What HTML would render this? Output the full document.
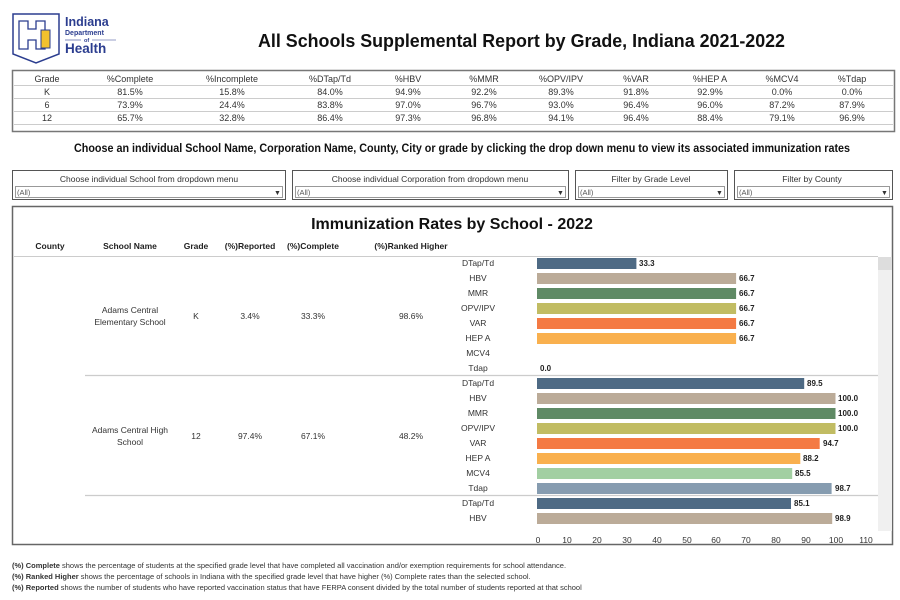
<!DOCTYPE html>
<html><head><meta charset="utf-8"><style>
html,body{margin:0;padding:0;background:#fff;width:900px;height:600px;overflow:hidden}
svg{display:block;font-family:"Liberation Sans",sans-serif}
</style></head><body>
<svg width="900" height="600" viewBox="0 0 900 600" xmlns="http://www.w3.org/2000/svg">
<!-- logo -->
<path d="M13,14 L59,14 L59,54 L36,63 L13,54 Z" fill="#fff" stroke="#2b3d8f" stroke-width="1.5"/>
<path d="M19,21 h9 v8 h8 v-8 h9 v28 h-9 v-9 h-8 v9 h-9 Z" fill="none" stroke="#2b3d8f" stroke-width="1.3"/>
<path d="M41,30 h9 v18 h-9 Z" fill="#f2c12e" stroke="#2b3d8f" stroke-width="1"/>
<text x="65" y="26" font-size="12.5" font-weight="bold" fill="#2b3d8f">Indiana</text>
<text x="65" y="35" font-size="7" font-weight="bold" fill="#2b3d8f">Department</text>
<text x="84" y="42" font-size="5.5" font-weight="bold" fill="#2b3d8f">of</text>
<line x1="65" y1="40" x2="81" y2="40" stroke="#2b3d8f" stroke-width="0.6"/>
<line x1="92" y1="40" x2="116" y2="40" stroke="#2b3d8f" stroke-width="0.6"/>
<text x="65" y="53" font-size="13.5" font-weight="bold" fill="#2b3d8f">Health</text>
<!-- title -->
<text x="258" y="47" font-size="18.5" font-weight="bold" fill="#111" textLength="527" lengthAdjust="spacingAndGlyphs">All Schools Supplemental Report by Grade, Indiana 2021-2022</text>
<!-- summary table -->
<rect x="12.5" y="70.5" width="882" height="61" fill="#fff" stroke="#777" stroke-width="1.5"/>
<g stroke="#ccc" stroke-width="1"><line x1="14" y1="85.5" x2="893" y2="85.5"/><line x1="14" y1="98.5" x2="893" y2="98.5"/><line x1="14" y1="111.5" x2="893" y2="111.5"/><line x1="14" y1="124.5" x2="893" y2="124.5"/></g>
<g font-size="9" fill="#333" text-anchor="middle">
<text x="47" y="82">Grade</text><text x="130" y="82">%Complete</text><text x="232" y="82">%Incomplete</text><text x="330" y="82">%DTap/Td</text><text x="408" y="82">%HBV</text><text x="484" y="82">%MMR</text><text x="561" y="82">%OPV/IPV</text><text x="636" y="82">%VAR</text><text x="710" y="82">%HEP A</text><text x="782" y="82">%MCV4</text><text x="852" y="82">%Tdap</text>
<text x="47" y="95">K</text><text x="130" y="95">81.5%</text><text x="232" y="95">15.8%</text><text x="330" y="95">84.0%</text><text x="408" y="95">94.9%</text><text x="484" y="95">92.2%</text><text x="561" y="95">89.3%</text><text x="636" y="95">91.8%</text><text x="710" y="95">92.9%</text><text x="782" y="95">0.0%</text><text x="852" y="95">0.0%</text>
<text x="47" y="108">6</text><text x="130" y="108">73.9%</text><text x="232" y="108">24.4%</text><text x="330" y="108">83.8%</text><text x="408" y="108">97.0%</text><text x="484" y="108">96.7%</text><text x="561" y="108">93.0%</text><text x="636" y="108">96.4%</text><text x="710" y="108">96.0%</text><text x="782" y="108">87.2%</text><text x="852" y="108">87.9%</text>
<text x="47" y="121">12</text><text x="130" y="121">65.7%</text><text x="232" y="121">32.8%</text><text x="330" y="121">86.4%</text><text x="408" y="121">97.3%</text><text x="484" y="121">96.8%</text><text x="561" y="121">94.1%</text><text x="636" y="121">96.4%</text><text x="710" y="121">88.4%</text><text x="782" y="121">79.1%</text><text x="852" y="121">96.9%</text>
</g>
<text x="74" y="152" font-size="11.5" font-weight="bold" fill="#111" textLength="776" lengthAdjust="spacingAndGlyphs">Choose an individual School Name, Corporation Name, County, City or grade by clicking the drop down menu to view its associated immunization rates</text>
<!-- dropdowns -->
<g font-size="8.5" fill="#333">
<rect x="12.5" y="170.5" width="273" height="29" fill="#fff" stroke="#555"/>
<rect x="15.5" y="186.5" width="267" height="11" fill="#fff" stroke="#999"/>
<text x="149" y="182" text-anchor="middle">Choose individual School from dropdown menu</text>
<text x="17" y="195" font-size="7.5" fill="#555">(All)</text><text x="274" y="195" font-size="7">▼</text>
<rect x="292.5" y="170.5" width="276" height="29" fill="#fff" stroke="#555"/>
<rect x="295.5" y="186.5" width="270" height="11" fill="#fff" stroke="#999"/>
<text x="430" y="182" text-anchor="middle">Choose individual Corporation from dropdown menu</text>
<text x="297" y="195" font-size="7.5" fill="#555">(All)</text><text x="557" y="195" font-size="7">▼</text>
<rect x="575.5" y="170.5" width="152" height="29" fill="#fff" stroke="#555"/>
<rect x="578.5" y="186.5" width="146" height="11" fill="#fff" stroke="#999"/>
<text x="651" y="182" text-anchor="middle">Filter by Grade Level</text>
<text x="580" y="195" font-size="7.5" fill="#555">(All)</text><text x="716" y="195" font-size="7">▼</text>
<rect x="734.5" y="170.5" width="158" height="29" fill="#fff" stroke="#555"/>
<rect x="737.5" y="186.5" width="152" height="11" fill="#fff" stroke="#999"/>
<text x="812" y="182" text-anchor="middle">Filter by County</text>
<text x="739" y="195" font-size="7.5" fill="#555">(All)</text><text x="881" y="195" font-size="7">▼</text>
</g>
<!-- main panel -->
<rect x="12.5" y="206.5" width="880" height="338" fill="#fff" stroke="#666" stroke-width="1.5"/>
<text x="452" y="229" font-size="16" font-weight="bold" fill="#111" text-anchor="middle">Immunization Rates by School - 2022</text>
<g font-size="8.5" font-weight="bold" fill="#222" text-anchor="middle">
<text x="50" y="249">County</text><text x="130" y="249">School Name</text><text x="196" y="249">Grade</text><text x="250" y="249">(%)Reported</text><text x="313" y="249">(%)Complete</text><text x="411" y="249">(%)Ranked Higher</text>
</g>
<line x1="14" y1="256.5" x2="878" y2="256.5" stroke="#ccc"/>
<line x1="85" y1="375.5" x2="878" y2="375.5" stroke="#ccc" stroke-width="1.2"/>
<line x1="85" y1="495.5" x2="878" y2="495.5" stroke="#ccc" stroke-width="1.2"/>
<rect x="878" y="257" width="14" height="274" fill="#f0f0f0"/>
<rect x="878" y="257" width="14" height="13" fill="#ddd"/>
<g font-size="8.5" fill="#333" text-anchor="middle">
<text x="130" y="313">Adams Central</text><text x="130" y="325">Elementary School</text>
<text x="196" y="319">K</text><text x="250" y="319">3.4%</text><text x="313" y="319">33.3%</text><text x="411" y="319">98.6%</text>
<text x="130" y="433">Adams Central High</text><text x="130" y="445">School</text>
<text x="196" y="439">12</text><text x="250" y="439">97.4%</text><text x="313" y="439">67.1%</text><text x="411" y="439">48.2%</text>
</g>
<!-- bar labels -->
<g font-size="8.5" fill="#333" text-anchor="middle">
<text x="478" y="266">DTap/Td</text><text x="478" y="281">HBV</text><text x="478" y="296">MMR</text><text x="478" y="311">OPV/IPV</text><text x="478" y="326">VAR</text><text x="478" y="341">HEP A</text><text x="478" y="356">MCV4</text><text x="478" y="371">Tdap</text>
<text x="478" y="386">DTap/Td</text><text x="478" y="401">HBV</text><text x="478" y="416">MMR</text><text x="478" y="431">OPV/IPV</text><text x="478" y="446">VAR</text><text x="478" y="461">HEP A</text><text x="478" y="476">MCV4</text><text x="478" y="491">Tdap</text>
<text x="478" y="506">DTap/Td</text><text x="478" y="521">HBV</text>
</g>
<!-- bars: x0=537, 2.985/unit -->
<g>
<rect x="537" y="258" width="99.4" height="11" fill="#4e6a84"/>
<rect x="537" y="273" width="199.1" height="11" fill="#bbab98"/>
<rect x="537" y="288" width="199.1" height="11" fill="#5f8a65"/>
<rect x="537" y="303" width="199.1" height="11" fill="#c1bc63"/>
<rect x="537" y="318" width="199.1" height="11" fill="#f47a44"/>
<rect x="537" y="333" width="199.1" height="11" fill="#f9b04e"/>
<rect x="537" y="378" width="267.2" height="11" fill="#4e6a84"/>
<rect x="537" y="393" width="298.5" height="11" fill="#bbab98"/>
<rect x="537" y="408" width="298.5" height="11" fill="#5f8a65"/>
<rect x="537" y="423" width="298.5" height="11" fill="#c1bc63"/>
<rect x="537" y="438" width="282.7" height="11" fill="#f47a44"/>
<rect x="537" y="453" width="263.3" height="11" fill="#f9b04e"/>
<rect x="537" y="468" width="255.2" height="11" fill="#a2cfa2"/>
<rect x="537" y="483" width="294.6" height="11" fill="#869cb0"/>
<rect x="537" y="498" width="254.0" height="11" fill="#4e6a84"/>
<rect x="537" y="513" width="295.2" height="11" fill="#bbab98"/>
</g>
<g font-size="8" font-weight="bold" fill="#222">
<text x="639" y="266">33.3</text><text x="739" y="281">66.7</text><text x="739" y="296">66.7</text><text x="739" y="311">66.7</text><text x="739" y="326">66.7</text><text x="739" y="341">66.7</text>
<text x="540" y="371">0.0</text>
<text x="807" y="386">89.5</text><text x="838" y="401">100.0</text><text x="838" y="416">100.0</text><text x="838" y="431">100.0</text><text x="823" y="446">94.7</text><text x="803" y="461">88.2</text><text x="795" y="476">85.5</text><text x="835" y="491">98.7</text>
<text x="794" y="506">85.1</text><text x="835" y="521">98.9</text>
</g>
<g font-size="8.5" fill="#333" text-anchor="middle">
<text x="538" y="543">0</text><text x="567" y="543">10</text><text x="597" y="543">20</text><text x="627" y="543">30</text><text x="657" y="543">40</text><text x="687" y="543">50</text><text x="716" y="543">60</text><text x="746" y="543">70</text><text x="776" y="543">80</text><text x="806" y="543">90</text><text x="836" y="543">100</text><text x="866" y="543">110</text>
</g>
<!-- footnotes -->
<g font-size="7.5" fill="#333">
<text x="12" y="568"><tspan font-weight="bold">(%) Complete</tspan> shows the percentage of students at the specified grade level that have completed all vaccination and/or exemption requirements for school attendance.</text>
<text x="12" y="579"><tspan font-weight="bold">(%) Ranked Higher</tspan> shows the percentage of schools in Indiana with the specified grade level that have higher (%) Complete rates than the selected school.</text>
<text x="12" y="590"><tspan font-weight="bold">(%) Reported</tspan> shows the number of students who have reported vaccination status that have FERPA consent divided by the total number of students reported at that school</text>
</g>
</svg>
</body></html>
